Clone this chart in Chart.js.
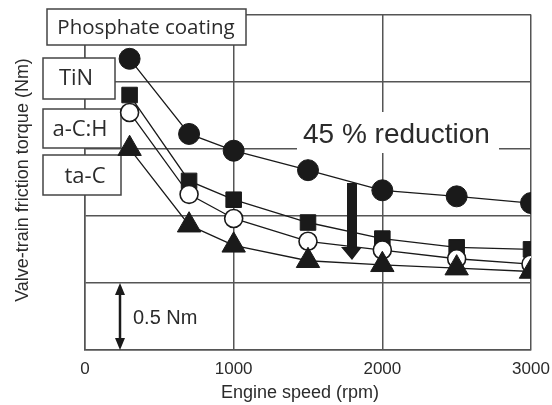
<!DOCTYPE html>
<html>
<head>
<meta charset="utf-8">
<script src="https://cdn.jsdelivr.net/npm/chart.js@4.4.1/dist/chart.umd.min.js"></script>
<style>
html,body{margin:0;padding:0;background:#fff;}
#wrap{width:552px;height:405px;position:relative;}
</style>
</head>
<body>
<div id="wrap"><canvas id="c"></canvas></div>
<script>
// Engine speed (rpm)
const speeds = [300, 700, 1000, 1500, 2000, 2500, 3000];
// Valve-train friction torque, relative scale (Nm, bottom of plot = 0)
const phosphate = [2.17, 1.61, 1.485, 1.34, 1.19, 1.145, 1.095];
const tin       = [1.90, 1.26, 1.12, 0.95, 0.83, 0.765, 0.75];
const acH       = [1.77, 1.16, 0.98, 0.81, 0.745, 0.68, 0.64];
const taC       = [1.50, 0.93, 0.78, 0.665, 0.635, 0.61, 0.585];
const seriesNames = ['Phosphate coating', 'TiN', 'a-C:H', 'ta-C'];
const xTicks = [0, 1000, 2000, 3000];
const xTitle = 'Engine speed (rpm)';
const yTitle = 'Valve-train friction torque (Nm)';
const reductionText = '45 % reduction';
const scaleText = '0.5 Nm';

const pts = arr => arr.map((v, i) => ({x: speeds[i], y: v}));
const INK = '#1a1a1a';
const GRID = '#555';
const TXT = '#2b2b2b';

const annot = {
  id: 'annot',
  beforeDatasetsDraw(chart) {
    const ctx = chart.ctx;
    const xs = chart.scales.x, ys = chart.scales.y;
    ctx.save();
    // white patch behind "45 % reduction"
    ctx.fillStyle = '#fff';
    ctx.fillRect(297, 112, 202, 41);
    // legend boxes
    const boxes = [
      {t: seriesNames[0], x: 47, y: 9, w: 199, h: 36, cx: 146, cy: 28},
      {t: seriesNames[1], x: 43, y: 58, w: 72, h: 41, cx: 76, cy: 79},
      {t: seriesNames[2], x: 43, y: 109, w: 78, h: 39, cx: 80, cy: 130},
      {t: seriesNames[3], x: 43, y: 155, w: 78, h: 40, cx: 85, cy: 177}
    ];
    ctx.textAlign = 'center';
    ctx.textBaseline = 'middle';
    boxes.forEach((b, i) => {
      ctx.fillStyle = '#fff';
      ctx.fillRect(b.x, b.y, b.w, b.h);
      ctx.strokeStyle = '#444';
      ctx.lineWidth = 1.5;
      ctx.strokeRect(b.x, b.y, b.w, b.h);
      ctx.fillStyle = TXT;
      ctx.font = (i === 0 ? '20.5px' : '22px') + ' "Open Sans"';
      ctx.fillText(b.t, b.cx, b.cy);
    });
    // 45 % reduction text
    ctx.font = '28px "Liberation Sans", Arial, sans-serif';
    ctx.textAlign = 'left';
    ctx.textBaseline = 'alphabetic';
    ctx.fillStyle = TXT;
    ctx.fillText(reductionText, 303, 143);
    // big down arrow
    ctx.fillStyle = INK;
    ctx.beginPath();
    ctx.moveTo(347, 183); ctx.lineTo(357, 183); ctx.lineTo(357, 247);
    ctx.lineTo(362, 247); ctx.lineTo(352, 260); ctx.lineTo(341, 247);
    ctx.lineTo(347, 247); ctx.closePath(); ctx.fill();
    // 0.5 Nm double arrow
    const ax = 120, top = ys.getPixelForValue(0.5), bot = ys.getPixelForValue(0);
    ctx.strokeStyle = INK; ctx.lineWidth = 2.5;
    ctx.beginPath(); ctx.moveTo(ax, top + 8); ctx.lineTo(ax, bot - 8); ctx.stroke();
    ctx.beginPath(); ctx.moveTo(ax, top); ctx.lineTo(ax - 5, top + 12); ctx.lineTo(ax + 5, top + 12); ctx.closePath(); ctx.fill();
    ctx.beginPath(); ctx.moveTo(ax, bot); ctx.lineTo(ax - 5, bot - 12); ctx.lineTo(ax + 5, bot - 12); ctx.closePath(); ctx.fill();
    ctx.font = '20px "Liberation Sans", Arial, sans-serif';
    ctx.fillStyle = TXT;
    ctx.textBaseline = 'middle';
    ctx.fillText(scaleText, 133, 318);
    // axis titles
    ctx.font = '18px "Liberation Sans", Arial, sans-serif';
    ctx.textAlign = 'center';
    ctx.fillText(xTitle, 300, 393);
    ctx.translate(23, 180);
    ctx.rotate(-Math.PI / 2);
    ctx.fillText(yTitle, 0, 0);
    ctx.restore();
  }
};

new Chart(document.getElementById('c'), {
  type: 'line',
  data: {
    datasets: [
      {label: seriesNames[0], data: pts(phosphate), order: 4, borderColor: INK, borderWidth: 1.3,
       pointStyle: 'circle', pointRadius: 10.5, backgroundColor: INK, pointBackgroundColor: INK, pointBorderColor: INK, pointBorderWidth: 1},
      {label: seriesNames[1], data: pts(tin), order: 3, borderColor: INK, borderWidth: 1.3,
       pointStyle: 'rect', pointRadius: 11, backgroundColor: INK, pointBackgroundColor: INK, pointBorderColor: INK, pointBorderWidth: 1},
      {label: seriesNames[2], data: pts(acH), order: 2, borderColor: INK, borderWidth: 1.3,
       pointStyle: 'circle', pointRadius: 9, backgroundColor: '#fff', pointBackgroundColor: '#fff', pointBorderColor: INK, pointBorderWidth: 1.6},
      {label: seriesNames[3], data: pts(taC), order: 1, borderColor: INK, borderWidth: 1.3,
       pointStyle: 'triangle', pointRadius: 13.5, backgroundColor: INK, pointBackgroundColor: INK, pointBorderColor: INK, pointBorderWidth: 1}
    ]
  },
  options: {
    responsive: true,
    maintainAspectRatio: false,
    animation: false,
    events: [],
    layout: {padding: {left: 0, top: 10, right: 21, bottom: 0}},
    plugins: {legend: {display: false}, tooltip: {enabled: false}},
    elements: {line: {tension: 0, fill: false}},
    scales: {
      x: {
        type: 'linear', min: 0, max: 3000,
        afterBuildTicks: s => { s.ticks = xTicks.map(v => ({value: v})); },
        afterFit: s => { s.height = 55; s.paddingLeft = 0; s.paddingRight = 0; },
        grid: {color: GRID, lineWidth: 1.5, drawTicks: false},
        border: {display: true, color: GRID, width: 1.5},
        ticks: {color: TXT, padding: 9, font: {family: '"Liberation Sans", Arial, sans-serif', size: 17}, maxRotation: 0,
                callback: v => String(v)}
      },
      y: {
        type: 'linear', min: 0, max: 2.5,
        afterFit: s => { s.width = 85; s.paddingTop = 0; s.paddingBottom = 0; },
        ticks: {display: false, stepSize: 0.5},
        grid: {color: GRID, lineWidth: 1.5, drawTicks: false},
        border: {display: true, color: GRID, width: 1.5}
      }
    }
  },
  plugins: [annot]
});
</script>
</body>
</html>
